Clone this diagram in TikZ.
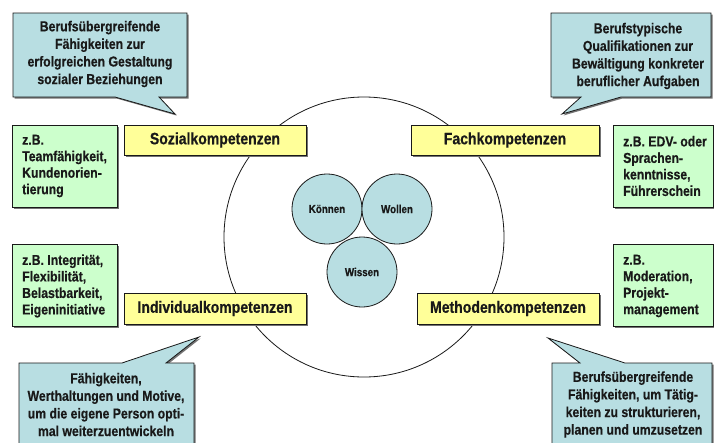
\documentclass[tikz,border=0pt]{standalone}
\usepackage{fontspec}
\setmainfont{Liberation Sans}[FakeStretch=0.85]
\newfontfamily\heavy{Liberation Sans Bold}[FakeStretch=0.85, FakeBold=0.5]
\usetikzlibrary{shadows}
\definecolor{cbl}{RGB}{184,222,226}
\definecolor{cye}{RGB}{255,255,153}
\definecolor{cgr}{RGB}{204,255,204}
\definecolor{ink}{RGB}{25,25,25}
\begin{document}
\begin{tikzpicture}[x=1pt,y=-1pt,
  shd/.style={drop shadow={shadow xshift=1.5pt,shadow yshift=-1.5pt,fill=black!55,opacity=1}},
  ybox/.style={draw=ink, line width=0.8pt, fill=cye, shd, inner sep=0pt, text=ink, font=\heavy\fontsize{16.5}{19}\selectfont},
  gbox/.style={draw=ink, line width=0.8pt, fill=cgr, shd, inner sep=0pt},
  gtext/.style={align=left, inner sep=0pt, anchor=west, text=ink, font=\heavy\fontsize{14.4}{16.5}\selectfont},
  cshape/.style={draw=ink, line width=0.8pt, fill=cbl, shd},
  ctext/.style={align=center, inner sep=0pt, text=ink, font=\heavy\fontsize{14.4}{17.6}\selectfont},
  kbox/.style={circle, draw=ink, line width=0.8pt, fill=cbl, minimum size=70pt, inner sep=0pt, text=ink, font=\heavy\fontsize{11.5}{13}\selectfont},
]
\clip (0,0) rectangle (714,442);
\fill[white] (0,0) rectangle (714,442);

% big ring
\node[circle, draw=ink, line width=0.8pt, minimum size=280pt, inner sep=0pt] (ring) at (364,237) {};

% callouts
\draw[cshape] (13,13) -- (187,13) -- (187,97) -- (159,97) -- (175,114) -- (115,97) -- (13,97) -- cycle;
\node[ctext] (c1) at (100,54) {Berufsübergreifende\\Fähigkeiten zur\\erfolgreichen Gestaltung\\sozialer Beziehungen};

\draw[cshape] (551,13) -- (711,13) -- (711,97) -- (621,97) -- (562,114) -- (581,97) -- (551,97) -- cycle;
\node[ctext] (c2) at (638,56) {Berufstypische\\Qualifikationen zur\\Bewältigung konkreter\\beruflicher Aufgaben};

\draw[cshape] (19,363) -- (122,363) -- (199,337) -- (166,363) -- (194,363) -- (194,450) -- (19,450) -- cycle;
\node[ctext] (c3) at (106,404.5) {Fähigkeiten,\\Werthaltungen und Motive,\\um die eigene Person opti-\\mal weiterzuentwickeln};

\draw[cshape] (552,363) -- (580,363) -- (548,338) -- (625,363) -- (712,363) -- (712,450) -- (552,450) -- cycle;
\node[ctext] (c4) at (633,404.5) {Berufsübergreifende\\Fähigkeiten, um Tätig-\\keiten zu strukturieren,\\planen und umzusetzen};

% green boxes
\node[gbox, minimum width=105pt, minimum height=82pt] (g1) at (64.5,166) {};
\node[gtext] (g1t) at (22,166) {z.B.\\Teamfähigkeit,\\Kundenorien-\\tierung};
\node[gbox, minimum width=100pt, minimum height=82pt] (g2) at (663,166) {};
\node[gtext] (g2t) at (623,166) {z.B. EDV- oder\\Sprachen-\\kenntnisse,\\Führerschein};
\node[gbox, minimum width=105pt, minimum height=82pt] (g3) at (64.5,285) {};
\node[gtext] (g3t) at (22,286) {z.B. Integrität,\\Flexibilität,\\Belastbarkeit,\\Eigeninitiative};
\node[gbox, minimum width=100pt, minimum height=82pt] (g4) at (663,285) {};
\node[gtext] (g4t) at (623,286) {z.B.\\Moderation,\\Projekt-\\management};

% yellow boxes
\node[ybox, minimum width=182pt, minimum height=30pt] (sozial) at (215,140) {Sozialkompetenzen};
\node[ybox, minimum width=188pt, minimum height=30pt] (fach) at (505,140) {Fachkompetenzen};
\node[ybox, minimum width=182pt, minimum height=31pt] (indiv) at (215,308.5) {Individualkompetenzen};
\node[ybox, minimum width=182pt, minimum height=31pt] (meth) at (508,308.5) {Methodenkompetenzen};

% inner circles
\node[kbox] (koennen) at (327,209) {Können};
\node[kbox] (wollen) at (397,209) {Wollen};
\node[kbox] (wissen) at (362,272) {Wissen};
\end{tikzpicture}
\end{document}
